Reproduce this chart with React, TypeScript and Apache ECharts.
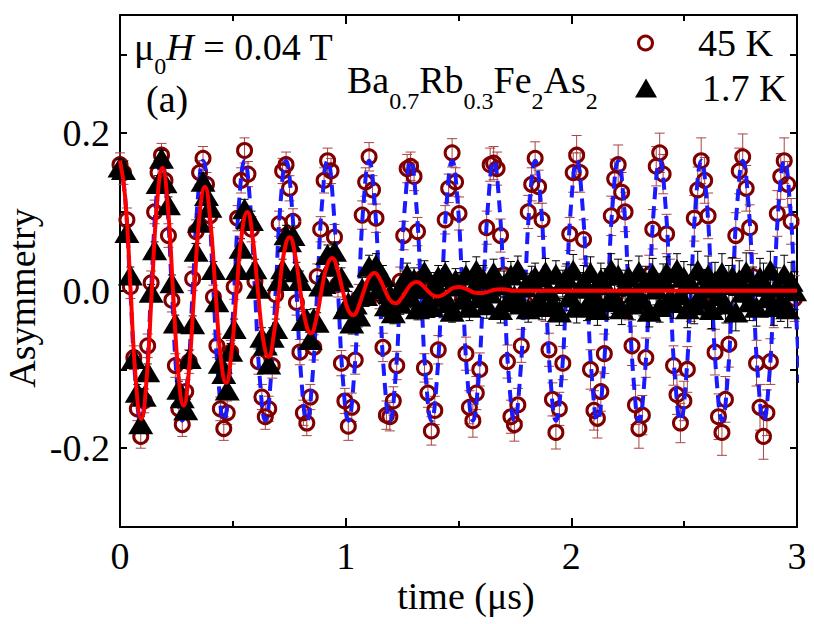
import React, { useEffect, useRef } from 'react';
import * as echarts from 'echarts';

// ---------- data ----------
const SERIES_NAMES = ['45 K', '1.7 K'];
const DATA_STEP = 0.01533; // μs between data bins

// 45 K asymmetry
const A45 = [
  0.160, 0.150, 0.090, 0.005, -0.085, -0.150, -0.185, -0.140, -0.070, 0.010, 0.100, 0.150,
  0.172, 0.140, 0.070, -0.012, -0.095, -0.150, -0.170, -0.128, -0.090, 0.015, 0.075, 0.150,
  0.168, 0.135, 0.095, -0.008, -0.070, -0.150, -0.175, -0.155, -0.078, 0.005, 0.092, 0.140,
  0.178, 0.148, 0.078, 0.012, -0.090, -0.135, -0.160, -0.150, -0.095, -0.005, 0.085, 0.152,
  0.160, 0.130, 0.088, -0.015, -0.078, -0.155, -0.168, -0.135, -0.072, 0.018, 0.078, 0.140,
  0.165, 0.152, 0.068, 0.008, -0.092, -0.140, -0.172, -0.148, -0.088, -0.010, 0.096, 0.138,
  0.170, 0.128, 0.092, -0.005, -0.072, -0.158, -0.160, -0.140, -0.095, 0.012, 0.070, 0.155,
  0.158, 0.145, 0.075, 0.015, -0.098, -0.130, -0.178, -0.152, -0.075, -0.012, 0.090, 0.130,
  0.175, 0.138, 0.098, -0.010, -0.080, -0.148, -0.165, -0.130, -0.100, 0.008, 0.080, 0.160,
  0.162, 0.155, 0.070, 0.020, -0.090, -0.160, -0.170, -0.145, -0.070, -0.015, 0.100, 0.135,
  0.168, 0.132, 0.090, -0.018, -0.075, -0.138, -0.180, -0.150, -0.092, 0.010, 0.072, 0.150,
  0.172, 0.150, 0.065, 0.010, -0.100, -0.152, -0.162, -0.128, -0.080, -0.008, 0.095, 0.142,
  0.160, 0.125, 0.100, -0.012, -0.070, -0.145, -0.175, -0.158, -0.085, 0.020, 0.078, 0.158,
  0.175, 0.148, 0.072, 0.015, -0.095, -0.132, -0.168, -0.140, -0.100, -0.010, 0.092, 0.128,
  0.165, 0.140, 0.095, -0.020, -0.078, -0.160, -0.180, -0.138, -0.068, 0.012, 0.070, 0.152,
  0.170, 0.130, 0.080, 0.018, -0.092, -0.148, -0.185, -0.155, -0.090, -0.018, 0.098, 0.145,
  0.165, 0.135, 0.088, -0.010,
];

// 1.7 K asymmetry
const A17 = [
  0.157, 0.154, 0.074, 0.020, -0.086, -0.129, -0.169, -0.134, -0.103, -0.002,
  0.052, 0.136, 0.168, 0.137, 0.109, 0.010, -0.041, -0.125, -0.136, -0.151,
  -0.086, -0.042, 0.050, 0.087, 0.139, 0.121, 0.106, 0.027, -0.014, -0.092,
  -0.105, -0.126, -0.077, -0.048, 0.027, 0.054, 0.104, 0.091, 0.089, 0.028,
  0.003, -0.059, -0.069, -0.093, -0.059, -0.048, 0.013, 0.028, 0.071, 0.062,
  0.070, 0.024, 0.013, -0.038, -0.036, -0.062, -0.035, -0.040, 0.006, 0.009,
  0.046, 0.031, 0.050, 0.013, 0.017, -0.023, -0.015, -0.041, -0.017, -0.032,
  0.003, -0.006, 0.031, 0.014, 0.033, 0.002, 0.018, -0.019, -0.004, -0.028,
  -0.006,
  -0.016, 0.011, 0.021, -0.008, 0.015, -0.023, 0.004, 0.024, -0.014, -0.020, 0.009, 0.018, -0.006, 0.023, -0.015, -0.026, 0.014, 0.006, -0.011, 0.020,
  -0.021, 0.002, 0.026, -0.009, 0.015, -0.018, -0.003, 0.023, 0.011, -0.024, 0.008, -0.014, 0.020, -0.006, 0.027, -0.017, 0.005, -0.023, 0.014, 0.018,
  -0.011, -0.020, 0.024, 0.000, -0.015, 0.021, -0.027, 0.009, 0.017, -0.008, 0.026, -0.021, 0.003, 0.012, -0.018, 0.023, -0.005, -0.024, 0.015, 0.008,
  -0.014, 0.027, -0.009, 0.020, -0.023, 0.006, 0.018, -0.017, -0.003, 0.024, -0.012, 0.011, -0.026, 0.021, 0.002, -0.020, 0.014, 0.023, -0.008, -0.015,
  0.027, -0.005, 0.017, -0.023, 0.009, -0.018, 0.026, -0.011, 0.003, 0.020, -0.024, 0.012, -0.006, 0.023, -0.017, 0.008, 0.018, -0.027, 0.014, -0.002,
  0.024, -0.014, 0.006, -0.021, 0.017, 0.011, -0.009, 0.026, -0.020, 0.005, -0.015, 0.021, -0.023, 0.012, 0.000,
];

// error bar size per 0.5 μs segment
const ERR_SEG = 0.5;
const ERR45 = [0.015, 0.016, 0.018, 0.021, 0.025, 0.029];
const ERR17 = [0.010, 0.012, 0.014, 0.017, 0.020, 0.024];

// fit curves (sampled)
const FIT45_STEP = 0.023;
const FIT45 = [
  0.165, 0.117, 0, -0.117, -0.165, -0.117, 0, 0.117,
  0.165, 0.117, 0, -0.117, -0.165, -0.117, 0, 0.117,
  0.165, 0.117, 0, -0.117, -0.165, -0.117, 0, 0.117,
  0.165, 0.117, 0, -0.117, -0.165, -0.117, 0, 0.117,
  0.165, 0.117, 0, -0.117, -0.165, -0.117, 0, 0.117,
  0.165, 0.117, 0, -0.117, -0.165, -0.117, 0, 0.117,
  0.165, 0.117, 0, -0.117, -0.165, -0.117, 0, 0.117,
  0.165, 0.117, 0, -0.117, -0.165, -0.117, 0, 0.117,
  0.165, 0.117, 0, -0.117, -0.165, -0.117, 0, 0.117,
  0.165, 0.117, 0, -0.117, -0.165, -0.117, 0, 0.117,
  0.165, 0.117, 0, -0.117, -0.165, -0.117, 0, 0.117,
  0.165, 0.117, 0, -0.117, -0.165, -0.117, 0, 0.117,
  0.165, 0.117, 0, -0.117, -0.165, -0.117, 0, 0.117,
  0.165, 0.117, 0, -0.117, -0.165, -0.117, 0, 0.117,
  0.165, 0.117, 0, -0.117, -0.165, -0.117, 0, 0.117,
  0.165, 0.117, 0, -0.117, -0.165, -0.117, 0, 0.117,
  0.165, 0.117, 0, -0.117,
];
const FIT17_STEP = 0.0235;
const FIT17 = [
  0.165, 0.117, 0, -0.116, -0.163, -0.114, 0, 0.112,
  0.156, 0.109, 0, -0.105, -0.146, -0.101, 0, 0.096,
  0.132, 0.091, 0, -0.085, -0.117, -0.080, 0, 0.074,
  0.100, 0.068, 0, -0.062, -0.084, -0.056, 0, 0.051,
  0.068, 0.046, 0, -0.040, -0.054, -0.036, 0, 0.031,
  0.0415, 0.027, 0, -0.024, -0.031, -0.020, 0, 0.017,
  0.0226, 0.0147, 0, -0.0124, -0.016, -0.0103, 0, 0.0086,
  0.011, 0.0071, 0, -0.0058, -0.0074, -0.0047, 0, 0.0038,
  0.0048, 0.003, 0, -0.0027, -0.003, -0.0021, 0, 0.0015,
  0.0019, 0.0013, 0,
];
const FIT17_TAIL: [number, number][] = [[3.0, 0]];

const X_MIN = 0, X_MAX = 3;
const Y_MIN = -0.3, Y_MAX = 0.35;
const Y_LABELS = [-0.2, 0, 0.2];

const FONT = 'Liberation Serif';

// ---------- helpers ----------
let _ctx: CanvasRenderingContext2D | null = null;
function measure(text: string, size: number, italic?: boolean) {
  if (!_ctx) _ctx = document.createElement('canvas').getContext('2d');
  if (!_ctx) return text.length * size * 0.5;
  _ctx.font = `${italic ? 'italic ' : ''}${size}px ${FONT}`;
  return _ctx.measureText(text).width;
}

type Run = { text: string; size: number; italic?: boolean; dy?: number };
function runsToGraphic(x0: number, y0: number, runs: Run[]) {
  let x = x0;
  const out: any[] = [];
  runs.forEach((r) => {
    out.push({
      type: 'text',
      x,
      y: y0 + (r.dy || 0),
      silent: true,
      style: {
        text: r.text,
        fontSize: r.size,
        fontFamily: FONT,
        fontStyle: r.italic ? 'italic' : 'normal',
        fill: '#000',
        align: 'left',
        verticalAlign: 'middle',
      },
    });
    x += measure(r.text, r.size, r.italic);
  });
  return out;
}

function errFor(t: number, table: number[]) {
  return table[Math.min(table.length - 1, Math.floor(t / ERR_SEG))];
}

function errRender(color: string, cap: number) {
  return (params: any, api: any) => {
    const t = api.value(0);
    const lo = api.coord([t, api.value(1)]);
    const hi = api.coord([t, api.value(2)]);
    const st = { stroke: color, lineWidth: 1 };
    return {
      type: 'group',
      children: [
        { type: 'line', shape: { x1: hi[0], y1: hi[1], x2: lo[0], y2: lo[1] }, style: st },
        { type: 'line', shape: { x1: hi[0] - cap, y1: hi[1], x2: hi[0] + cap, y2: hi[1] }, style: st },
        { type: 'line', shape: { x1: lo[0] - cap, y1: lo[1], x2: lo[0] + cap, y2: lo[1] }, style: st },
      ],
    };
  };
}

export default function App() {
  const ref = useRef<HTMLDivElement>(null);

  useEffect(() => {
    if (!ref.current) return;
    const chart = echarts.init(ref.current, undefined, { renderer: 'svg' });

    const pts45 = A45.map((v, i) => [i * DATA_STEP, v]);
    const pts17 = A17.map((v, i) => [i * DATA_STEP, v]);
    const err45 = pts45.map(([t, v]) => { const e = errFor(t, ERR45); return [t, v - e, v + e]; });
    const err17 = pts17.map(([t, v]) => { const e = errFor(t, ERR17); return [t, v - e, v + e]; });
    const fit45 = FIT45.map((v, i) => [i * FIT45_STEP, v]);
    const fit17 = FIT17.map((v, i) => [i * FIT17_STEP, v] as [number, number]).concat(FIT17_TAIL);

    const axisLine = { show: true, onZero: false, lineStyle: { color: '#000', width: 2 } };
    const tickStyle = { color: '#000', width: 2 };
    const labelStyle = { fontSize: 38, fontFamily: FONT, color: '#000' };

    const xBase = {
      type: 'value', min: X_MIN, max: X_MAX, interval: 1,
      axisLine, splitLine: { show: false },
      axisTick: { show: true, inside: true, length: 9, lineStyle: tickStyle },
      minorTick: { show: true, splitNumber: 2, length: 6, lineStyle: tickStyle },
      minorSplitLine: { show: false },
    };
    const yBase = {
      type: 'value', min: Y_MIN, max: Y_MAX, interval: 0.1,
      axisLine, splitLine: { show: false },
      axisTick: { show: true, inside: true, length: 7, lineStyle: tickStyle },
    };

    const legendY = [43, 88];

    chart.setOption({
      animation: false,
      backgroundColor: '#fff',
      grid: { left: 120, right: 17, top: 15, bottom: 97, containLabel: false },
      xAxis: [
        { ...xBase, position: 'bottom', axisLabel: { ...labelStyle, margin: 10, formatter: (v: number) => String(v) } },
        { ...xBase, position: 'top', axisLabel: { show: false } },
      ],
      yAxis: [
        {
          ...yBase, position: 'left',
          axisLabel: {
            ...labelStyle, margin: 10,
            formatter: (v: number) => (Y_LABELS.some((l) => Math.abs(l - v) < 1e-6) ? v.toFixed(1) : ''),
          },
        },
        { ...yBase, position: 'right', axisLabel: { show: false } },
      ],
      series: [
        {
          type: 'custom', name: SERIES_NAMES[0] + ' err', silent: true, z: 1,
          renderItem: errRender('#a84444', 5), data: err45, encode: { x: 0, y: [1, 2] },
        },
        {
          type: 'scatter', name: SERIES_NAMES[0], silent: true, z: 2,
          symbol: 'circle', symbolSize: 14, data: pts45,
          itemStyle: { color: 'rgba(0,0,0,0)', borderColor: '#800000', borderWidth: 3, opacity: 1 },
        },
        {
          type: 'line', name: SERIES_NAMES[0] + ' fit', silent: true, z: 3,
          data: fit45, showSymbol: false, smooth: true,
          lineStyle: { color: '#1a1aff', width: 4, type: [12, 7] },
        },
        {
          type: 'custom', name: SERIES_NAMES[1] + ' err', silent: true, z: 4,
          renderItem: errRender('#000', 4), data: err17, encode: { x: 0, y: [1, 2] },
        },
        {
          type: 'scatter', name: SERIES_NAMES[1], silent: true, z: 5,
          symbol: 'triangle', symbolSize: [25, 21], data: pts17,
          itemStyle: { color: '#000', opacity: 1 },
        },
        {
          type: 'line', name: SERIES_NAMES[1] + ' fit', silent: true, z: 6,
          data: fit17, showSymbol: false, smooth: true,
          lineStyle: { color: '#ff0000', width: 4 },
        },
      ],
      graphic: [
        // axis titles
        {
          type: 'text', x: 22, y: 298, rotation: Math.PI / 2, silent: true,
          style: { text: 'Asymmetry', fontSize: 38, fontFamily: FONT, fill: '#000', align: 'center', verticalAlign: 'middle' },
        },
        {
          type: 'text', x: 466, y: 596, silent: true,
          style: { text: 'time (μs)', fontSize: 38, fontFamily: FONT, fill: '#000', align: 'center', verticalAlign: 'middle' },
        },
        // annotations
        ...runsToGraphic(134, 47, [
          { text: 'μ', size: 38 },
          { text: '0', size: 24, dy: 19 },
          { text: 'H', size: 38, italic: true },
          { text: ' = 0.04 T', size: 38 },
        ]),
        ...runsToGraphic(146, 99, [{ text: '(a)', size: 38 }]),
        ...runsToGraphic(347, 80, [
          { text: 'Ba', size: 38 },
          { text: '0.7', size: 24, dy: 21 },
          { text: 'Rb', size: 38 },
          { text: '0.3', size: 24, dy: 21 },
          { text: 'Fe', size: 38 },
          { text: '2', size: 24, dy: 21 },
          { text: 'As', size: 38 },
          { text: '2', size: 24, dy: 21 },
        ]),
        // legend
        {
          type: 'circle', silent: true, shape: { cx: 645.5, cy: legendY[0], r: 7 },
          style: { fill: 'none', stroke: '#800000', lineWidth: 3 },
        },
        {
          type: 'polygon', silent: true,
          shape: { points: [[646, legendY[1] - 9.5], [657, legendY[1] + 9.5], [635, legendY[1] + 9.5]] },
          style: { fill: '#000' },
        },
        ...runsToGraphic(698, legendY[0], [{ text: SERIES_NAMES[0], size: 38 }]),
        ...runsToGraphic(702, legendY[1], [{ text: SERIES_NAMES[1], size: 38 }]),
      ],
    });

    return () => chart.dispose();
  }, []);

  return (
    <div
      ref={ref}
      style={{ position: 'fixed', left: 0, top: 0, width: 814, height: 624, background: '#fff' }}
    />
  );
}
